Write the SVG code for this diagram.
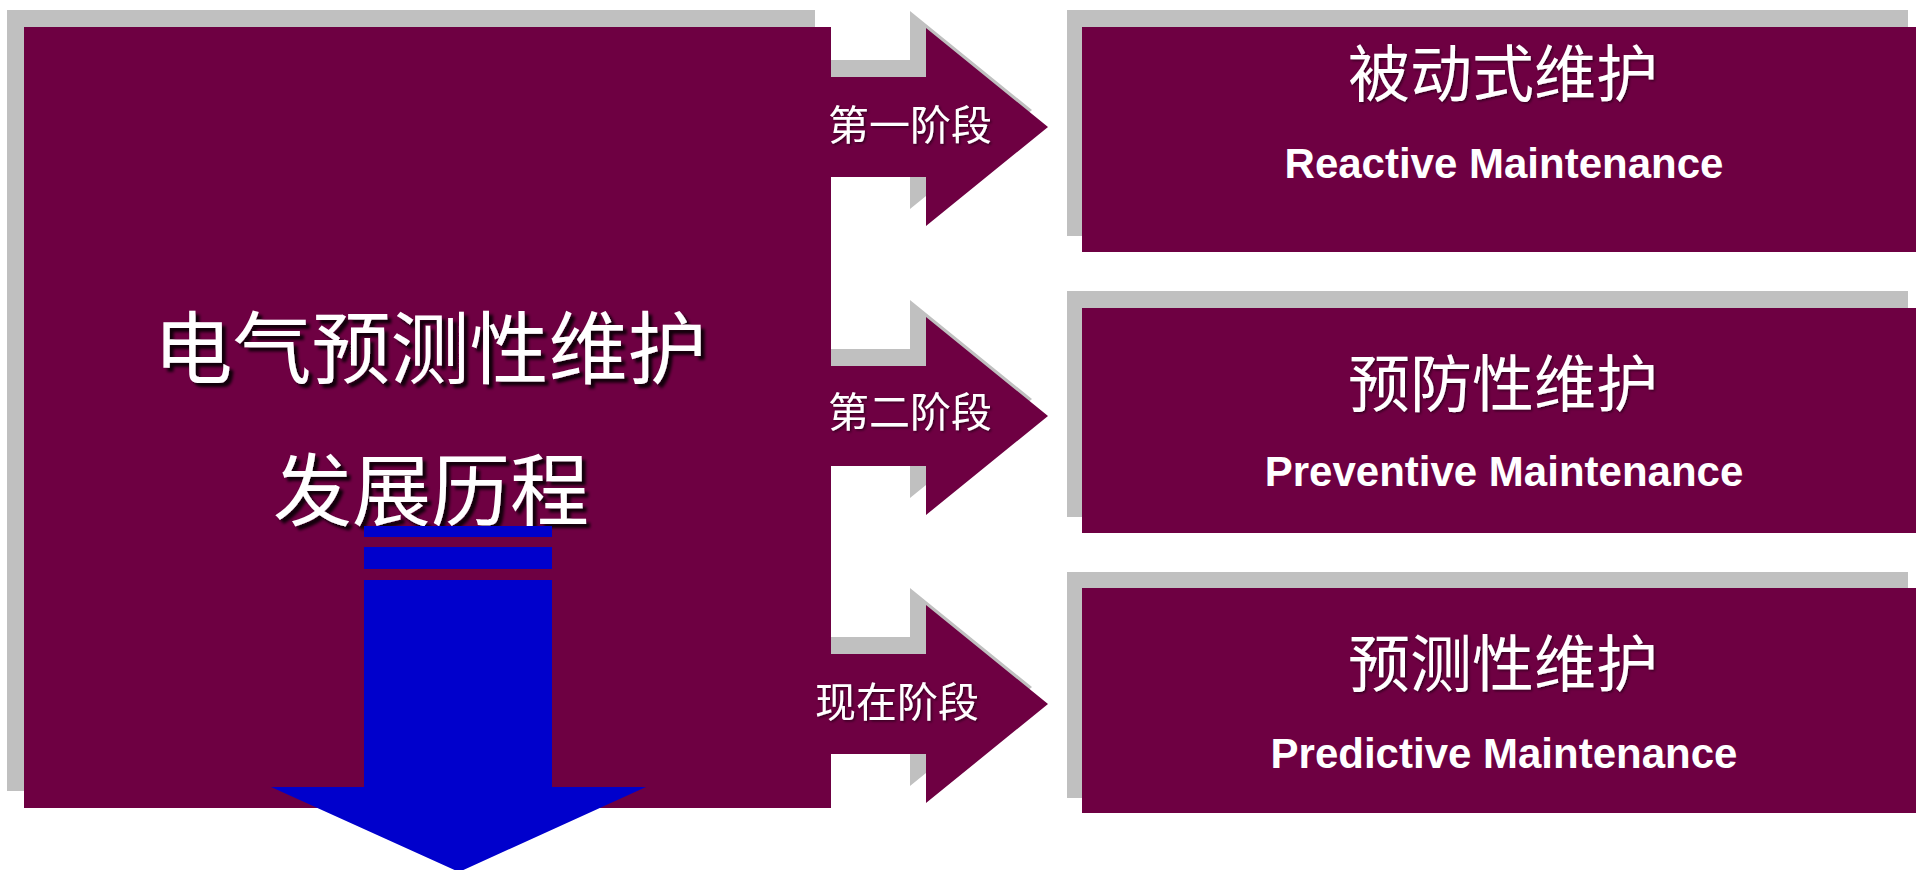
<svg xmlns="http://www.w3.org/2000/svg" width="1916" height="870" viewBox="0 0 1916 870">
  <defs>
    <style>
      .shadow { fill: #C0C0C0; }
      .plum { fill: #6E0042; }
      .cjk { font-family: "Noto Sans CJK SC", "Noto Sans", sans-serif; fill: #FFFFFF; text-anchor: middle; }
      .en { font-family: "Liberation Sans", Arial, sans-serif; font-weight: bold; fill: #FFFFFF; text-anchor: middle; font-size: 42px; }
      .title { font-size: 79px; filter: url(#ts); }
      .boxtitle { font-size: 62px; filter: url(#ts2); }
      .stage { font-size: 41px; filter: url(#ts2); }
    </style>
    <filter id="ts" x="-10%" y="-20%" width="130%" height="150%">
      <feDropShadow dx="4" dy="4" stdDeviation="1.5" flood-color="#000000" flood-opacity="0.85"/>
    </filter>
    <filter id="ts2" x="-10%" y="-20%" width="130%" height="150%">
      <feDropShadow dx="1.5" dy="1.5" stdDeviation="0.8" flood-color="#000000" flood-opacity="0.5"/>
    </filter>
    <path id="arrowShape" d="M0,-50 L126,-50 L126,-99 L248,0 L126,99 L126,50 L0,50 Z"/>
  </defs>

  <rect width="1916" height="870" fill="#FFFFFF"/>

  <!-- shadows -->
  <g id="shadows" class="shadow">
    <rect x="7" y="10" width="808" height="781"/>
    <use href="#arrowShape" transform="translate(784,110)"/>
    <use href="#arrowShape" transform="translate(784,399)"/>
    <use href="#arrowShape" transform="translate(784,687)"/>
    <rect x="1067" y="10" width="841" height="226"/>
    <rect x="1067" y="291" width="841" height="226"/>
    <rect x="1067" y="572" width="841" height="226"/>
  </g>

  <g id="main-node">
    <rect class="plum" x="24" y="27" width="807" height="781"/>
    <text class="cjk title" x="430" y="378">电气预测性维护</text>
    <text class="cjk title" x="431" y="520">发展历程</text>
  </g>

  <g id="connectors">
    <g id="stage1">
      <use href="#arrowShape" class="plum" transform="translate(800,127)"/>
      <text class="cjk stage" x="910" y="140">第一阶段</text>
    </g>
    <g id="stage2">
      <use href="#arrowShape" class="plum" transform="translate(800,416)"/>
      <text class="cjk stage" x="910" y="427">第二阶段</text>
    </g>
    <g id="stage3">
      <use href="#arrowShape" class="plum" transform="translate(800,704)"/>
      <text class="cjk stage" x="897" y="717">现在阶段</text>
    </g>
    <g id="timeline-arrow" fill="#0000CC">
      <rect x="364" y="526" width="188" height="11"/>
      <rect x="364" y="547" width="188" height="22"/>
      <polygon points="364,580 552,580 552,787 646,787 459,872 271,787 364,787"/>
    </g>
  </g>

  <g id="box-reactive">
    <rect class="plum" x="1082" y="27" width="834" height="225"/>
    <text class="cjk boxtitle" x="1503" y="97">被动式维护</text>
    <text class="en" x="1504" y="178">Reactive Maintenance</text>
  </g>

  <g id="box-preventive">
    <rect class="plum" x="1082" y="308" width="834" height="225"/>
    <text class="cjk boxtitle" x="1503" y="407">预防性维护</text>
    <text class="en" x="1504" y="486">Preventive Maintenance</text>
  </g>

  <g id="box-predictive">
    <rect class="plum" x="1082" y="588" width="834" height="225"/>
    <text class="cjk boxtitle" x="1503" y="687">预测性维护</text>
    <text class="en" x="1504" y="768">Predictive Maintenance</text>
  </g>
</svg>
